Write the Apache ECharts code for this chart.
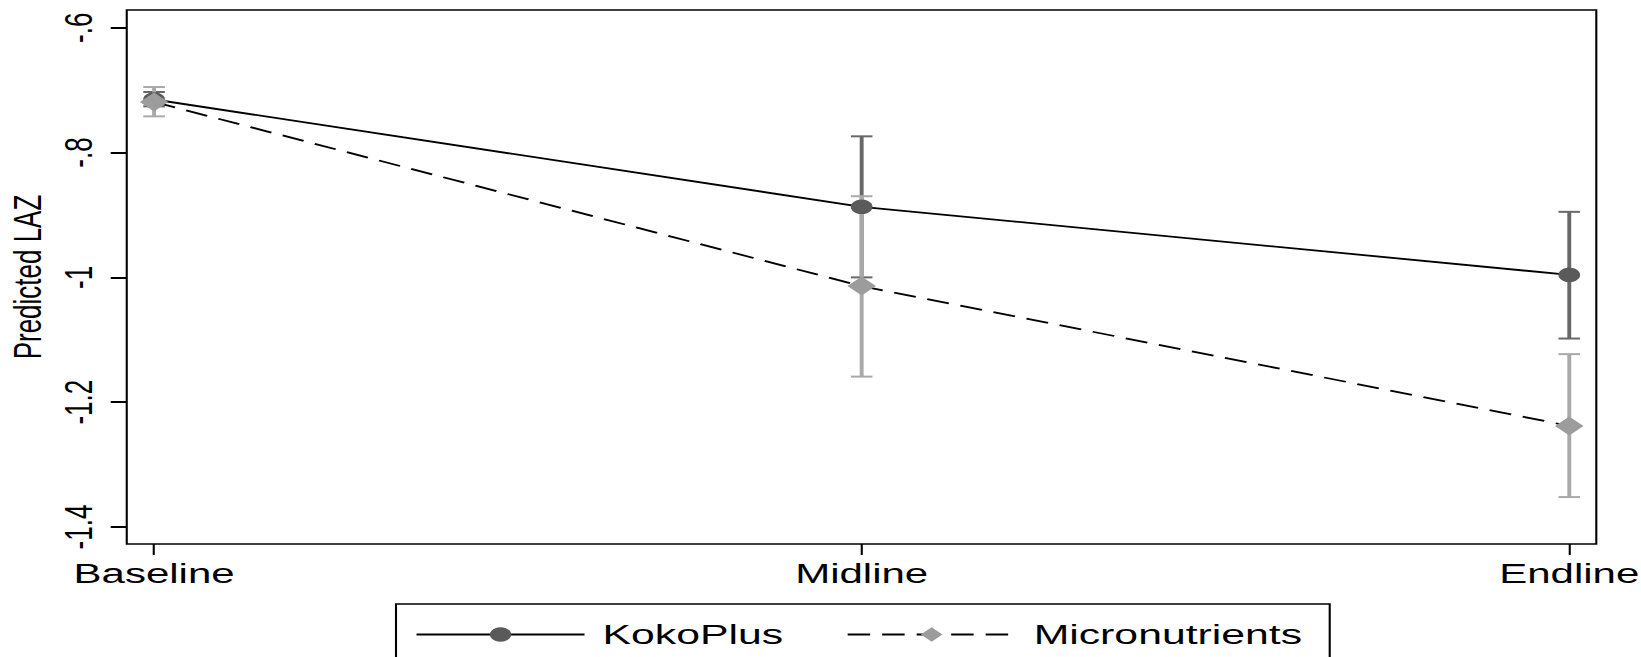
<!DOCTYPE html>
<html>
<head>
<meta charset="utf-8">
<title>Predicted LAZ by survey round</title>
<script src="https://cdn.jsdelivr.net/npm/echarts@6/dist/echarts.min.js"></script>
<style>
  html, body { margin: 0; padding: 0; background: #fff; overflow: hidden; }
  /* The chart is laid out in a narrower box and widened horizontally,
     giving the wide letterforms and oval markers of the exported graph. */
  #chart {
    position: absolute; left: 0; top: 0;
    width: 1094px; height: 657px;
    transform: scaleX(1.5);
    transform-origin: 0 0;
  }
</style>
</head>
<body>
<div id="chart"></div>
<script>
// Survey rounds on the x axis
const categories = ['Baseline', 'Midline', 'Endline'];

// Predicted length-for-age z-score with 95% confidence limits
const kokoMean = [-0.715, -0.887, -0.996];
const kokoLow  = [-0.726, -1.000, -1.098];
const kokoHigh = [-0.703, -0.774, -0.895];

const microMean = [-0.719, -1.014, -1.238];
const microLow  = [-0.742, -1.159, -1.352];
const microHigh = [-0.695, -0.870, -1.123];

// Y tick positions and their printed labels
const yTickValues = [-1.4, -1.2, -1, -0.8, -0.6];
const yTickLabels = ['-1.4', '-1.2', '-1', '-.8', '-.6'];
const xTickValues = [0, 1, 2];

const FONT = "'Liberation Sans', Arial, Helvetica, sans-serif";

const chart = echarts.init(document.getElementById('chart'), null, { renderer: 'svg' });

function pointsOf(mean) {
  return mean.map((v, i) => [i, v]);
}
function rangesOf(low, high) {
  return low.map((v, i) => [i, v, high[i]]);
}

// Vertical confidence bar with short caps at both ends
function ciRenderer(color) {
  return function (params, api) {
    const x = api.value(0);
    const top = api.coord([x, api.value(2)]);
    const bot = api.coord([x, api.value(1)]);
    const half = 7.2;
    return {
      type: 'group',
      children: [
        { type: 'line', shape: { x1: top[0], y1: top[1], x2: bot[0], y2: bot[1] },
          style: { stroke: color, lineWidth: 2.6 } },
        { type: 'line', shape: { x1: top[0] - half, y1: top[1], x2: top[0] + half, y2: top[1] },
          style: { stroke: color, lineWidth: 2 } },
        { type: 'line', shape: { x1: bot[0] - half, y1: bot[1], x2: bot[0] + half, y2: bot[1] },
          style: { stroke: color, lineWidth: 2 } }
      ]
    };
  };
}

const option = {
  backgroundColor: '#ffffff',
  animation: false,
  grid: {
    left: 84.5, right: 29.8, top: 10, bottom: 113,
    show: true, borderColor: '#000', borderWidth: 1.4,
    backgroundColor: 'transparent',
    containLabel: false,
    outerBoundsMode: 'none'
  },
  xAxis: {
    type: 'value',
    min: -0.0386, max: 2.0382,
    splitLine: { show: false },
    axisLine: { show: false, onZero: false },
    axisTick: {
      show: true, inside: false, length: 11, customValues: xTickValues,
      lineStyle: { color: '#000', width: 1.4 }
    },
    axisLabel: {
      show: true, customValues: xTickValues, margin: 16,
      color: '#000', fontFamily: FONT, fontSize: 28,
      formatter: v => categories[Math.round(v)]
    }
  },
  yAxis: {
    type: 'value',
    min: -1.4272, max: -0.5716,
    name: 'Predicted LAZ',
    nameLocation: 'middle',
    nameGap: 50.5,
    nameRotate: 90,
    nameTextStyle: { color: '#000', fontFamily: FONT, fontSize: 26 },
    splitLine: { show: false },
    axisLine: { show: false, onZero: false },
    axisTick: {
      show: true, inside: false, length: 10.7, customValues: yTickValues,
      lineStyle: { color: '#000', width: 2 }
    },
    axisLabel: {
      show: true, customValues: yTickValues, margin: 19, rotate: 90,
      color: '#000', fontFamily: FONT, fontSize: 26,
      formatter: v => {
        const i = yTickValues.findIndex(t => Math.abs(t - v) < 1e-6);
        return i >= 0 ? yTickLabels[i] : '';
      }
    }
  },
  legend: {
    data: ['KokoPlus', 'Micronutrients'],
    orient: 'horizontal',
    left: 264, top: 604,
    padding: [16, 18.4, 40, 12.7],
    borderColor: '#000', borderWidth: 1.4,
    backgroundColor: '#fff',
    itemWidth: 112, itemHeight: 18, itemGap: 42,
    selectedMode: false,
    textStyle: { color: '#000', fontFamily: FONT, fontSize: 28.5, padding: [0, 0, 0, 7] }
  },
  series: [
    {
      name: 'KokoPlus CI', type: 'custom', z: 1,
      renderItem: ciRenderer('#686868'),
      data: rangesOf(kokoLow, kokoHigh),
      encode: { x: 0, y: [1, 2] }
    },
    {
      name: 'Micronutrients CI', type: 'custom', z: 1,
      renderItem: ciRenderer('#a9a9a9'),
      data: rangesOf(microLow, microHigh),
      encode: { x: 0, y: [1, 2] }
    },
    {
      name: 'KokoPlus', type: 'line', z: 3,
      data: pointsOf(kokoMean),
      symbol: 'circle', symbolSize: 14.5,
      itemStyle: { color: '#5a5a5a' },
      lineStyle: { color: '#000', width: 1.8, type: 'solid' }
    },
    {
      name: 'Micronutrients', type: 'line', z: 4,
      data: pointsOf(microMean),
      symbol: 'diamond', symbolSize: [19, 19],
      itemStyle: { color: '#9c9c9c' },
      lineStyle: { color: '#000', width: 1.8, type: [15, 8] }
    }
  ]
};

chart.setOption(option);
</script>
</body>
</html>
